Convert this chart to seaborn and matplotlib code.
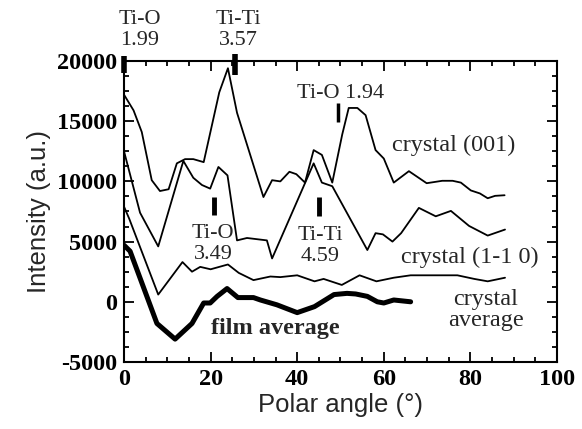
import numpy as np
import pandas as pd
import matplotlib
matplotlib.use("Agg")
import matplotlib.pyplot as plt
import seaborn as sns
from matplotlib.ticker import MultipleLocator

# ---- data ----
x_001 = [0, 2.2, 4.1, 6.4, 8.3, 10.3, 12.2, 14.1, 16.0, 18.4, 22.0, 24.0, 26.1, 32.2,
         34.2, 36.1, 38.2, 39.8, 41.8, 43.8, 45.7, 48.1, 50.4, 51.9, 53.9, 55.8, 58.1,
         60.0, 62.3, 65.8, 69.9, 73.5, 75.9, 77.8, 80.1, 82.2, 84.0, 85.7, 87.9]
y_001 = [17200, 15900, 14100, 10100, 9200, 9350, 11500, 11850, 11850, 11600, 17400, 19400,
         15700, 8700, 10100, 10000, 10800, 10600, 9900, 12600, 12200, 9900, 13900, 16100,
         16100, 15500, 12600, 11900, 9900, 10850, 9850, 10050, 10050, 9900, 9250, 9000,
         8600, 8800, 8850]

x_110 = [0, 3.7, 7.9, 13.7, 16.0, 18.0, 19.9, 21.8, 23.9, 26.1, 28.4, 33.0, 34.2, 43.8,
         45.7, 48.1, 56.2, 58.1, 59.8, 62.0, 64.0, 68.1, 72.0, 75.5, 79.7, 84.0, 88.0]
y_110 = [12500, 7400, 4600, 11700, 10300, 9700, 9400, 11200, 10500, 5100, 5300, 5100,
         3600, 11500, 9900, 9600, 4300, 5700, 5600, 5000, 5700, 7800, 7100, 7550, 6300,
         5500, 6000]

x_cavg = [0, 1.2, 7.9, 13.5, 15.7, 17.6, 20.0, 24.0, 26.5, 29.9, 33.8, 36.1, 40.0, 44.0,
          46.1, 50.3, 54.4, 58.3, 62.3, 66.2, 70.0, 73.9, 77.0, 80.9, 84.0, 88.0]
y_cavg = [7900, 6900, 600, 3300, 2500, 2900, 2700, 3100, 2400, 1800, 2100, 2050, 2200,
          1700, 1900, 1400, 2200, 1700, 2000, 2200, 2200, 2200, 2200, 1900, 1700, 2000]

x_film = [0, 1.4, 7.6, 11.8, 15.7, 18.4, 19.9, 21.5, 23.8, 26.3, 29.9, 31.5, 35.3, 40.0,
          44.0, 48.5, 51.5, 53.5, 56.2, 58.5, 60.0, 62.3, 66.2]
y_film = [4700, 4200, -1800, -3100, -1800, -100, -100, 450, 1100, 350, 350, 150, -250,
          -900, -400, 600, 700, 650, 450, 0, -100, 150, 0]

x_ticks = [0, 20, 40, 60, 80, 100]
y_ticks = [-5000, 0, 5000, 10000, 15000, 20000]

# ---- style ----
sns.set_theme(style="ticks")
plt.rcParams.update({
    "font.family": ["Liberation Serif", "DejaVu Serif"],
    "axes.unicode_minus": False,
    "axes.linewidth": 1.5,
    "axes.edgecolor": "black",
    "xtick.color": "black",
    "ytick.color": "black",
})

fig = plt.figure(figsize=(5.82, 4.29), dpi=100)
ax = fig.add_axes([0.2131, 0.1562, 0.957 - 0.2131, 0.8578 - 0.1562])

series = [
    (x_001, y_001, 1.3),
    (x_110, y_110, 1.3),
    (x_cavg, y_cavg, 1.3),
    (x_film, y_film, 3.6),
]
for xs, ys, lw in series:
    df = pd.DataFrame({"x": xs, "y": ys})
    sns.lineplot(data=df, x="x", y="y", ax=ax, color="black", lw=lw,
                 sort=False, estimator=None, legend=False)

ax.set_xlim(0, 100)
ax.set_ylim(-5000, 20000)
ax.set_xticks(x_ticks)
ax.set_yticks(y_ticks)
ax.xaxis.set_minor_locator(MultipleLocator(5))
ax.yaxis.set_minor_locator(MultipleLocator(1250))
ax.tick_params(which="both", direction="in", top=True, right=True, width=1.3)
ax.tick_params(which="major", length=7, labelsize=17.5, pad=5)
ax.tick_params(which="minor", length=3.5)
for lab in ax.get_xticklabels() + ax.get_yticklabels():
    lab.set_fontweight("bold")

ax.set_xlabel("Polar angle (°)", family=["Liberation Sans", "DejaVu Sans"], fontsize=18.5, labelpad=2)
ax.set_ylabel("Intensity (a.u.)", family=["Liberation Sans", "DejaVu Sans"], fontsize=18.5, labelpad=4)

# ---- annotations ----
fs = 16
ax.text(76.2, 13000, "crystal (001)", fontsize=17.5, ha="center", va="center")
ax.text(79.9, 3700, "crystal (1-1 0)", fontsize=17.5, ha="center", va="center")
ax.text(83.6, -700, "crystal\naverage", fontsize=17.5, ha="center", va="center", linespacing=1.0)
ax.text(35.0, -2250, "film average", fontsize=17.5, ha="center", va="center", fontweight="bold")
ax.text(20.6, 4800, "Ti-O\n3.49", fontsize=fs, ha="center", va="center", linespacing=1.15)
ax.text(45.4, 4650, "Ti-Ti\n4.59", fontsize=fs, ha="center", va="center", linespacing=1.15)
ax.text(50.0, 17300, "Ti-O 1.94", fontsize=fs, ha="center", va="center")
ax.text(3.7, 22600, "Ti-O\n1.99", fontsize=fs, ha="center", va="center", linespacing=1.15, clip_on=False)
ax.text(26.4, 22600, "Ti-Ti\n3.57", fontsize=fs, ha="center", va="center", linespacing=1.15, clip_on=False)

marks = [
    (20.8, 7200, 8700, 3.5),
    (45.1, 7100, 8700, 3.5),
    (49.5, 14950, 16500, 2.5),
    (0.0, 19000, 20400, 4.0),
    (25.7, 18850, 20600, 4.0),
]
for mx, y0, y1, w in marks:
    ax.plot([mx, mx], [y0, y1], color="black", lw=w, clip_on=False, solid_capstyle="butt")

fig.savefig("out.png", dpi=100)
